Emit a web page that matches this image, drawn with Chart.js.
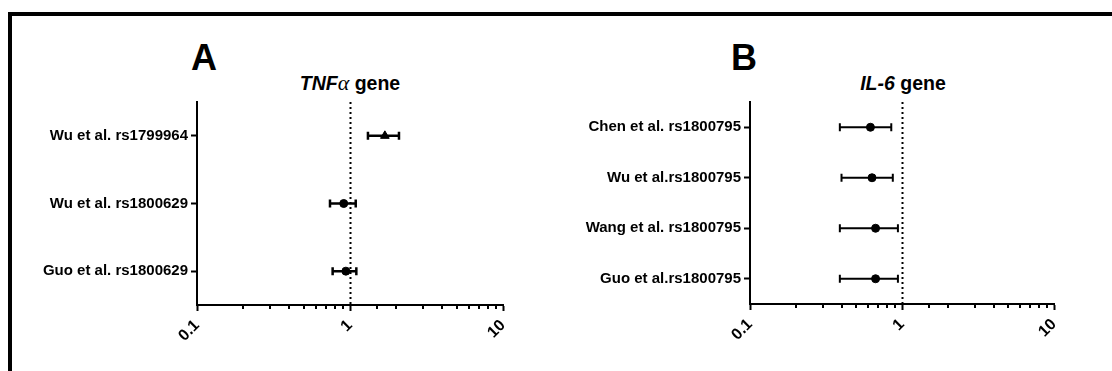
<!DOCTYPE html>
<html>
<head>
<meta charset="utf-8">
<script src="https://cdn.jsdelivr.net/npm/chart.js@4"></script>
<style>
  body { margin: 0; background: #fff; width: 1112px; height: 371px; overflow: hidden; position: relative; font-family: "Liberation Sans", Arial, sans-serif; }
  .frame { position: absolute; left: 8px; top: 12px; width: 1200px; height: 500px; border-top: 4px solid #000; border-left: 4px solid #000; }
  .letter { position: absolute; font-weight: bold; font-size: 36px; line-height: 36px; color: #000; }
  .gene { position: absolute; width: 200px; text-align: center; font-weight: bold; font-size: 19.5px; line-height: 18px; color: #000; }
  .gene .alpha { font-family: "Liberation Serif", serif; font-weight: normal; font-style: italic; font-size: 22px; }
  canvas { position: absolute; }
</style>
</head>
<body>
<div class="frame"></div>
<div class="letter" style="left:191px; top:40px;">A</div>
<div class="gene" style="left:250px; top:74px;"><i>TNF</i><span class="alpha">α</span> gene</div>
<div class="letter" style="left:731px; top:40px;">B</div>
<div class="gene" style="left:803px; top:74px;"><i>IL-6</i> gene</div>
<canvas id="tnf" width="540" height="260" style="left:0px; top:90px;"></canvas>
<canvas id="il6" width="540" height="260" style="left:556px; top:90px;"></canvas>
<script>
// TNF-alpha studies (odds ratio with 95% CI)
const tnfLabels = ["Wu et al. rs1799964", "Wu et al. rs1800629", "Guo et al. rs1800629"];
const tnfOR = [1.69, 0.91, 0.94];
const tnfLow = [1.31, 0.74, 0.77];
const tnfHigh = [2.09, 1.09, 1.10];
const tnfMarkers = ["triangle", "circle", "circle"];

// IL-6 studies
const il6Labels = ["Chen et al. rs1800795", "Wu et al.rs1800795", "Wang et al. rs1800795", "Guo et al.rs1800795"];
const il6OR = [0.62, 0.635, 0.67, 0.67];
const il6Low = [0.39, 0.40, 0.39, 0.39];
const il6High = [0.85, 0.87, 0.94, 0.94];
const il6Markers = ["circle", "circle", "circle", "circle"];

const xTickLabels = [0.1, 1, 10];

function isMajor(v) {
  const l = Math.log10(v);
  return Math.abs(l - Math.round(l)) < 1e-6;
}

// whiskers + line of no effect, drawn under the points
const forestPlugin = {
  id: "forest",
  beforeDatasetsDraw(chart, args, opts) {
    const { ctx, chartArea } = chart;
    const xs = chart.scales.x, ys = chart.scales.y;
    ctx.save();
    // dotted line at OR = 1
    const x1 = Math.round(xs.getPixelForValue(1)) + 0.5;
    ctx.strokeStyle = "#000";
    ctx.lineWidth = 2;
    ctx.setLineDash([2, 3]);
    ctx.beginPath();
    ctx.moveTo(x1, chartArea.top);
    ctx.lineTo(x1, chartArea.bottom);
    ctx.stroke();
    ctx.setLineDash([]);
    // error bars
    ctx.lineWidth = opts.width;
    opts.low.forEach((lo, i) => {
      const y = ys.getPixelForValue(i + 1);
      const a = xs.getPixelForValue(lo);
      const b = xs.getPixelForValue(opts.high[i]);
      ctx.beginPath();
      ctx.moveTo(a, y);
      ctx.lineTo(b, y);
      ctx.moveTo(a, y - 4);
      ctx.lineTo(a, y + 4);
      ctx.moveTo(b, y - 4);
      ctx.lineTo(b, y + 4);
      ctx.stroke();
    });
    ctx.restore();
  },
  afterDraw(chart) {
    // short minor ticks on the log axis
    const { ctx, chartArea } = chart;
    const xs = chart.scales.x;
    ctx.save();
    ctx.strokeStyle = "#000";
    ctx.lineWidth = 2;
    xs.ticks.forEach((t) => {
      if (isMajor(t.value)) return;
      const x = Math.round(xs.getPixelForValue(t.value));
      ctx.beginPath();
      ctx.moveTo(x, chartArea.bottom);
      ctx.lineTo(x, chartArea.bottom + 4);
      ctx.stroke();
    });
    ctx.restore();
  },
};

function forest(id, labels, or, low, high, markers, yWidth, padRight, xHeight, barWidth) {
  return new Chart(document.getElementById(id), {
    type: "scatter",
    data: {
      datasets: [
        {
          data: or.map((v, i) => ({ x: v, y: i + 1 })),
          pointStyle: markers,
          pointRadius: markers.map((m) => (m === "triangle" ? 5 : 4)),
          pointBackgroundColor: "#000",
          pointBorderColor: "#000",
          pointBorderWidth: 1,
        },
      ],
    },
    options: {
      responsive: false,
      devicePixelRatio: 1,
      animation: false,
      events: [],
      layout: { padding: { left: 0, right: padRight, top: 10, bottom: 0 } },
      plugins: {
        legend: { display: false },
        tooltip: { enabled: false },
        forest: { low: low, high: high, width: barWidth },
      },
      scales: {
        x: {
          type: "logarithmic",
          min: 0.1,
          max: 10,
          border: { display: true, color: "#000", width: 2 },
          grid: {
            drawOnChartArea: false,
            tickLength: 6,
            tickWidth: 2,
            tickColor: (c) => (c.tick && isMajor(c.tick.value) ? "#000" : "rgba(0,0,0,0)"),
          },
          ticks: {
            autoSkip: false,
            minRotation: 45,
            maxRotation: 45,
            padding: 5,
            color: "#000",
            font: { family: "Liberation Sans", size: 16, weight: "bold" },
            callback: (v) => (xTickLabels.some((t) => Math.abs(t - v) < 1e-9) ? String(v) : ""),
          },
          afterFit: (s) => { s.height = xHeight; },
        },
        y: {
          type: "linear",
          reverse: true,
          min: 0.5,
          max: labels.length + 0.5,
          border: { display: true, color: "#000", width: 2 },
          grid: { drawOnChartArea: false, tickLength: 6, tickWidth: 2, tickColor: "#000" },
          afterBuildTicks: (s) => { s.ticks = labels.map((_, i) => ({ value: i + 1 })); },
          ticks: {
            autoSkip: false,
            padding: 3,
            color: "#000",
            font: { family: "Liberation Sans", size: 15, weight: "bold" },
            callback: (v) => labels[v - 1],
          },
          afterFit: (s) => { s.width = yWidth; },
        },
      },
    },
    plugins: [forestPlugin],
  });
}

forest("tnf", tnfLabels, tnfOR, tnfLow, tnfHigh, tnfMarkers, 197, 37, 45, 2.5);
forest("il6", il6Labels, il6OR, il6Low, il6High, il6Markers, 194, 42, 46, 2);
</script>
</body>
</html>
